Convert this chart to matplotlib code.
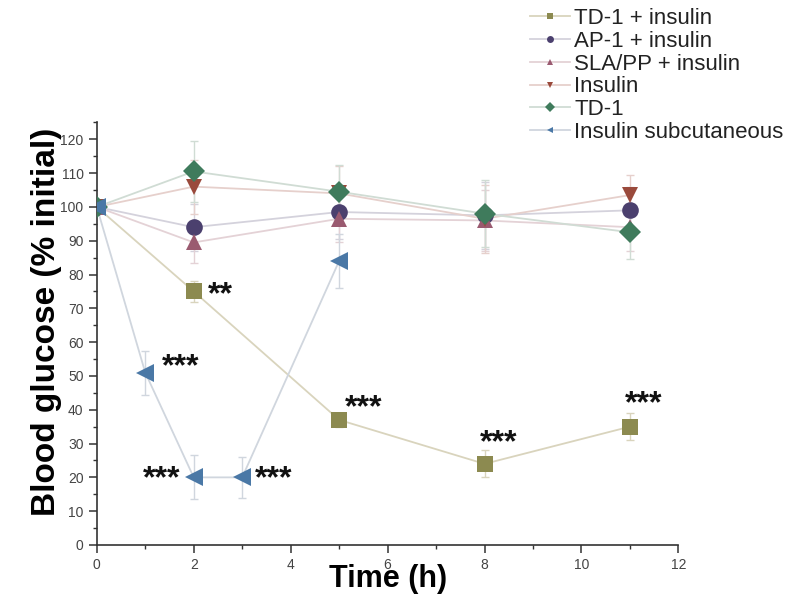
import numpy as np
import matplotlib.pyplot as plt
from matplotlib.ticker import MultipleLocator

plt.rcParams['font.family'] = ['Liberation Sans', 'DejaVu Sans']

# Time points [h]
t_main = [0, 2, 5, 8, 11]
t_subcut = [0, 1, 2, 3, 5]

# Blood glucose [% initial] and error bars
td1_ins = [100, 75, 37, 24, 35]
td1_ins_err = [1, 3, 2, 4, 4]
ap1_ins = [100, 94, 98.5, 97.5, 99]
ap1_ins_err = [1, 7, 8, 10, 7]
sla_ins = [100, 89.5, 96.5, 96, 94]
sla_ins_err = [1, 6, 7, 9, 7]
insulin = [100, 106, 104, 96.5, 103.5]
insulin_err = [1, 8, 8, 10, 6]
td1 = [100, 110.5, 104.5, 98, 92.5]
td1_err = [1, 9, 8, 10, 8]
subcut = [100, 51, 20, 20, 84]
subcut_err = [1, 6.5, 6.5, 6, 8]

labels = ['TD-1 + insulin', 'AP-1 + insulin', 'SLA/PP + insulin',
          'Insulin', 'TD-1', 'Insulin subcutaneous']

# significance stars: (x, y, text, ha)
stars = [(2.29, 74, '**', 'left'), (1.34, 52.6, '***', 'left'),
         (1.72, 19.5, '***', 'right'), (3.26, 19.5, '***', 'left'),
         (5.12, 40.5, '***', 'left'), (7.91, 30.2, '***', 'left'),
         (10.9, 41.7, '***', 'left')]

fig = plt.figure(figsize=(7.87, 5.96), dpi=100)
ax = fig.add_axes([0.123, 0.0856, 0.739, 0.709])

series = [
    (t_main, td1_ins, td1_ins_err, 's', '#8c8a50', '#d9d4bd', 11),
    (t_main, ap1_ins, ap1_ins_err, 'o', '#4b406e', '#d4d2dc', 12),
    (t_main, sla_ins, sla_ins_err, '^', '#9a5a70', '#e4d2d6', 12),
    (t_main, insulin, insulin_err, 'v', '#9a4a3c', '#e6d0cc', 12),
    (t_main, td1, td1_err, 'D', '#3f7b5c', '#d0dcd4', 11),
    (t_subcut, subcut, subcut_err, '<', '#4a78a6', '#d0d6de', 13),
]

handles = []
for (x, y, e, m, c, lc, ms), lab in zip(series, labels):
    ax.errorbar(x, y, yerr=e, fmt='none', ecolor=lc, elinewidth=1,
                capsize=3, capthick=1, zorder=2)
    ax.plot(x, y, '-', color=lc, linewidth=1.3, zorder=1)
    ax.plot(x, y, linestyle='none', marker=m, color=c, markersize=ms,
            markeredgewidth=0, zorder=3)
    h, = plt.plot([], [], '-', color=lc, linewidth=1.3, marker=m,
                  markerfacecolor=c, markeredgewidth=0, markersize=5)
    handles.append(h)

for x, y, s, ha in stars:
    ax.text(x, y, s, fontsize=23, fontweight='bold', ha=ha, va='center',
            color='#111111')

ax.set_xlim(0, 12)
ax.set_ylim(0, 125)
ax.xaxis.set_major_locator(MultipleLocator(2))
ax.xaxis.set_minor_locator(MultipleLocator(1))
ax.yaxis.set_minor_locator(MultipleLocator(5))
ax.set_yticks(np.arange(0, 121, 10))
ax.spines['top'].set_visible(False)
ax.spines['right'].set_visible(False)
for sp in ('left', 'bottom'):
    ax.spines[sp].set_color('#333333')
    ax.spines[sp].set_linewidth(1.2)
ax.tick_params(which='major', length=6, width=1.1, color='#333333',
               labelsize=10, labelcolor='#444444')
ax.tick_params(which='minor', length=3, width=1.0, color='#333333')

ax.set_xlabel('Time (h)', fontsize=22, fontweight='bold')
ax.set_ylabel('Blood glucose (% initial)', fontsize=24, fontweight='bold')
ax.xaxis.set_label_coords(0.5, -0.045)
ax.yaxis.set_label_coords(-0.06, 0.528)

fig.legend(handles, labels, loc='upper left',
           bbox_to_anchor=(530 / 787, 1 - 8 / 596),
           frameon=False, fontsize=16, handlelength=1.8, handletextpad=0.2,
           labelspacing=0.08, borderpad=0, borderaxespad=0,
           labelcolor='#222222')

fig.savefig('out.png', dpi=100)
